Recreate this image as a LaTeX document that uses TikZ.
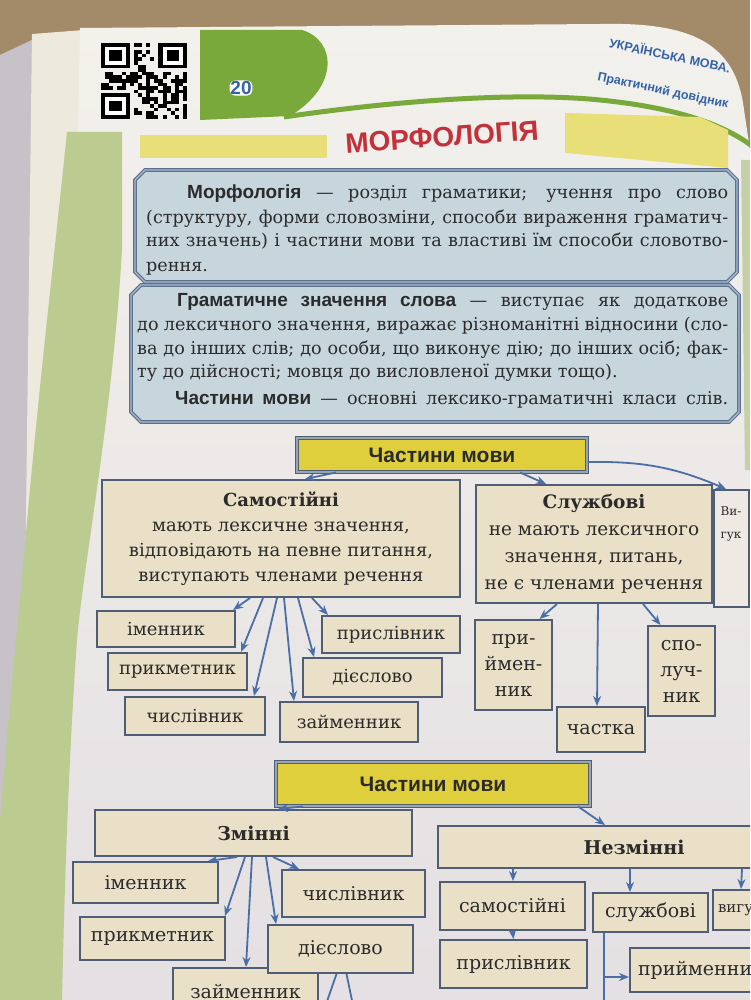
\documentclass[tikz,border=0pt]{standalone}
\usepackage{fontspec}
\setmainfont{DejaVu Serif}
\newfontfamily\hsans{Liberation Sans}
\usetikzlibrary{arrows.meta}
\definecolor{carpet}{HTML}{A38B6A}
\definecolor{lav}{HTML}{C7C2C8}
\definecolor{stack}{HTML}{EDE9DC}
\definecolor{pagetop}{HTML}{F3F1EC}
\definecolor{pagebot}{HTML}{E4E0E3}
\definecolor{rgreen}{HTML}{C5D0A8}
\definecolor{gstrip}{HTML}{BCCB90}
\definecolor{hgreen}{HTML}{79A93B}
\definecolor{barcol}{HTML}{E8DF78}
\definecolor{tred}{HTML}{C3313A}
\definecolor{hblue}{HTML}{3563A8}
\definecolor{infofill}{HTML}{C7D5DD}
\definecolor{infobord}{HTML}{5E7190}
\definecolor{infodbl}{HTML}{A9BACB}
\definecolor{yellowbox}{HTML}{DFCF3C}
\definecolor{dblc}{HTML}{9AA5B2}
\definecolor{beige}{HTML}{E9E0C7}
\definecolor{vygfill}{HTML}{EEEAE3}
\definecolor{bord}{HTML}{4F5D75}
\definecolor{arrowc}{HTML}{4A6EA6}
\definecolor{ink}{HTML}{2B2B2B}
\tikzset{
  leaf/.style={draw=bord, line width=2pt, fill=beige, text=ink, inner sep=0pt,
    font=\fontsize{18}{25}\selectfont, align=center},
  leafb/.style={leaf, font=\fontsize{19}{26}\selectfont},
  yelbox/.style={draw=bord, line width=1pt, double=dblc, double distance=1.8pt,
    fill=yellowbox, text=ink, inner sep=0pt, font=\hsans\bfseries\fontsize{21}{21}\selectfont},
  arr/.style={draw=arrowc, line width=1.8pt, -{Stealth[length=10pt,width=8pt]}},
  plainln/.style={draw=arrowc, line width=1.8pt},
  infobox/.style={fill=infofill, draw=infobord, line width=1.1pt, double=infodbl, double distance=1.4pt},
  bodyline/.style={anchor=base west, inner sep=0pt, text=ink, font=\fontsize{17.6}{20}\selectfont},
  hdrtext/.style={font=\hsans\bfseries\fontsize{12.5}{12.5}\selectfont, text=hblue, inner sep=0pt},
}
\newcommand\termb[1]{{\hsans\bfseries\fontsize{19}{20}\selectfont #1}}
\begin{document}
\begin{tikzpicture}[x=1pt,y=-1pt]
\useasboundingbox (0,0) rectangle (750,1000);
\clip (0,0) rectangle (750,1000);
% ---------- background ----------
\fill[carpet] (0,0) rectangle (750,1000);
\fill[lav] (0,55) -- (32,40) -- (32,1000) -- (0,1000) -- cycle;
\fill[stack] (32,34) -- (84,30) -- (84,1000) -- (20,1000) -- cycle;
\shade[top color=pagetop, bottom color=pagebot] (80,28) -- (600,24) .. controls (690,22) and (736,42) .. (744,110) -- (750,150) -- (750,1000) -- (60,1000) -- cycle;
\fill[rgreen] (741,160) -- (750,160) -- (750,470) -- (745,470) -- cycle;
\fill[gstrip] (67,132) -- (122,132) -- (122,250) .. controls (112,420) and (84,560) .. (77,640) .. controls (70,740) and (65,860) .. (62,1000) -- (0,1000) -- (0,820) .. controls (8,720) and (16,640) .. (22,580) .. controls (35,420) and (55,250) .. (67,132) -- cycle;
% ---------- QR code ----------
\foreach \fx/\fy in {0/0,14/0,0/14}{
  \fill[black] ({101+\fx*4.1},{43+\fy*3.6}) rectangle +(28.7,25.2);
  \fill[white] ({101+(\fx+1)*4.1},{43+(\fy+1)*3.6}) rectangle +(20.5,18);
  \fill[black] ({101+(\fx+2)*4.1},{43+(\fy+2)*3.6}) rectangle +(12.3,10.8);
}
\pgfmathsetseed{42}
\foreach \i in {0,...,20}{\foreach \j in {0,...,20}{%
  \pgfmathtruncatemacro\inf{((\i<8)&&(\j<8))||((\i>12)&&(\j<8))||((\i<8)&&(\j>12))}%
  \pgfmathsetmacro\rr{rnd}%
  \ifnum\inf=0 \ifdim\rr pt<0.5pt \fill[black] ({101+\i*4.1},{43+\j*3.6}) rectangle +(4.1,3.6);\fi\fi
}}
% ---------- header ----------
\fill[hgreen] (200,30) -- (302,30) .. controls (336,40) and (340,86) .. (290,116) -- (200,120) -- cycle;
\draw[hgreen, line width=5pt] (284,117) .. controls (400,100) and (520,92) .. (600,100) .. controls (670,107) and (720,122) .. (752,146);
\node[font=\hsans\bfseries\fontsize{19}{19}\selectfont, text=hblue, fill=white, rounded corners=5pt, inner sep=0.8pt] (pnum) at (241,88) {20};
\node[hdrtext, rotate=-12] (ukr) at (670,55) {УКРАЇНСЬКА МОВА.};
\node[hdrtext, rotate=-12] (prakt) at (663,91) {Практичний довідник};
\fill[barcol] (140,135) rectangle (327,158);
\fill[barcol] (565,113) -- (700,117) -- (728,130) -- (728,168) -- (565,153) -- cycle;
\node[font=\hsans\bfseries\fontsize{28}{28}\selectfont, text=tred, rotate=4] (title) at (442,137) {МОРФОЛОГІЯ};
% ---------- definition boxes ----------
\draw[infobox] (135,180) -- (145,170) -- (727,170) -- (737,180) -- (737,272) -- (727,282) -- (145,282) -- (135,272) -- cycle;
\node[bodyline] (d1a) at (187,199) {\makebox[541pt][s]{\termb{Морфологія} — розділ граматики; учення про слово}};
\node[bodyline] (d1b) at (146,223) {\makebox[582pt][s]{(структуру, форми словозміни, способи вираження граматич-}};
\node[bodyline] (d1c) at (146,247) {\makebox[582pt][s]{них значень) і частини мови та властиві їм способи словотво-}};
\node[bodyline] (d1d) at (146,271) {рення.};
\draw[infobox] (131,295) -- (141,285) -- (729,285) -- (739,295) -- (739,412) -- (729,422) -- (141,422) -- (131,412) -- cycle;
\node[bodyline] (d2a) at (177,306) {\makebox[551pt][s]{\termb{Граматичне значення слова} — виступає як додаткове}};
\node[bodyline] (d2b) at (137,330) {\makebox[591pt][s]{до лексичного значення, виражає різноманітні відносини (сло-}};
\node[bodyline] (d2c) at (137,354) {\makebox[591pt][s]{ва до інших слів; до особи, що виконує дію; до інших осіб; фак-}};
\node[bodyline] (d2d) at (137,377) {ту до дійсності; мовця до висловленої думки тощо).};
\node[bodyline] (d2e) at (175,404) {\makebox[553pt][s]{\termb{Частини мови} — основні лексико-граматичні класи слів.}};
% ---------- diagram 1 ----------
\node[yelbox, minimum width=290pt, minimum height=34pt] (top1) at (442,455) {Частини мови};
\node[leaf, minimum width=358pt, minimum height=117pt] (sam) at (281,538.5)
  {{\bfseries Самостійні}\\мають лексичне значення,\\відповідають на певне питання,\\виступають членами речення};
\node[leafb, minimum width=236pt, minimum height=118pt, font=\fontsize{18.5}{27}\selectfont] (sluzh) at (594,544)
  {{\bfseries Службові}\\не мають лексичного\\значення, питань,\\не є членами речення};
\node[leaf, fill=vygfill, minimum width=35pt, minimum height=117pt] (vyg) at (731,548.5) {};
\node[text=ink, font=\fontsize{12}{23}\selectfont, align=center, inner sep=0pt] (vygt) at (731,524) {Ви-\\гук};
\node[leaf, minimum width=138pt, minimum height=36pt] (imen1) at (166,629) {іменник};
\node[leaf, minimum width=139pt, minimum height=37pt] (prykm1) at (177.5,671.5) {прикметник};
\node[leaf, minimum width=140pt, minimum height=38pt] (chysl1) at (195,716) {числівник};
\node[leaf, minimum width=138pt, minimum height=37pt] (pryslv1) at (391,634.5) {прислівник};
\node[leaf, minimum width=139pt, minimum height=39pt] (dies1) at (372.5,677.5) {дієслово};
\node[leaf, minimum width=138pt, minimum height=40pt] (zaim1) at (349,722) {займенник};
\node[leafb, minimum width=77pt, minimum height=90pt] (pryim1) at (513.5,665) {при-\\ймен-\\ник};
\node[leafb, minimum width=88pt, minimum height=45pt] (chastka) at (601,729.5) {частка};
\node[leafb, minimum width=67pt, minimum height=90pt] (spol) at (681.5,671) {спо-\\луч-\\ник};
\draw[arr] ([xshift=-106pt]top1.south) -- ([xshift=24pt]sam.north);
\draw[arr] ([xshift=78pt]top1.south) -- ([xshift=-48pt]sluzh.north);
\draw[arr] ([yshift=-7pt]top1.east) to[bend left=12] ([xshift=-5pt]vyg.north);
\draw[arr] ([xshift=-31pt]sam.south) -- ([xshift=-3pt]imen1.north east);
\draw[arr] ([xshift=-18pt]sam.south) -- ([xshift=-7pt]prykm1.north east);
\draw[arr] ([xshift=-4pt]sam.south) -- ([xshift=-12pt]chysl1.north east);
\draw[arr] ([xshift=3pt]sam.south) -- ([xshift=15pt]zaim1.north west);
\draw[arr] ([xshift=17pt]sam.south) -- ([xshift=12pt]dies1.north west);
\draw[arr] ([xshift=31pt]sam.south) -- ([xshift=7pt]pryslv1.north west);
\draw[arr] ([xshift=-37pt]sluzh.south) -- ([xshift=26pt]pryim1.north);
\draw[arr] ([xshift=4pt]sluzh.south) -- ([xshift=-4pt]chastka.north);
\draw[arr] ([xshift=49pt]sluzh.south) -- ([xshift=-21pt]spol.north);
% ---------- diagram 2 ----------
\node[yelbox, minimum width=314pt, minimum height=44pt] (top2) at (433,784) {Частини мови};
\node[leafb, minimum width=317pt, minimum height=46pt] (zmin) at (253.5,833) {\bfseries Змінні};
\node[leafb, minimum width=392pt, minimum height=42pt] (nezmin) at (634,847) {\bfseries Незмінні};
\node[leafb, minimum width=145pt, minimum height=41pt] (imen2) at (145.5,882.5) {іменник};
\node[leafb, minimum width=145pt, minimum height=43pt] (prykm2) at (152.5,938.5) {прикметник};
\node[leafb, minimum width=145pt, minimum height=47pt] (zaim2) at (245.5,991.5) {займенник};
\node[leafb, minimum width=143pt, minimum height=47pt] (chysl2) at (353.5,893.5) {числівник};
\node[leafb, minimum width=145pt, minimum height=48pt] (dies2) at (340.5,949) {дієслово};
\node[leafb, minimum width=145pt, minimum height=48pt] (samost2) at (512.5,906) {самостійні};
\node[leafb, minimum width=147pt, minimum height=48pt] (pryslv2) at (513.5,964) {прислівник};
\node[leafb, minimum width=115pt, minimum height=39pt] (sluzh2) at (650.5,912.5) {службові};
\node[leafb, minimum width=89pt, minimum height=40pt, font=\fontsize{15}{15}\selectfont, text width=79pt, align=left, inner xsep=5pt] (vyg2) at (757.5,910) {вигук};
\node[leafb, minimum width=170pt, minimum height=44pt, text width=160pt, align=left, inner xsep=8pt] (pryim2) at (718,970) {прийменник};
\coordinate (d2l) at (324,1010);
\coordinate (d2r) at (354,1010);
\coordinate (sl2end) at (604,1010);
\coordinate (sl2br) at (604,977);
\draw[arr] ([xshift=-130pt]top2.south) -- ([xshift=24.5pt]zmin.north);
\draw[arr] ([xshift=145pt]top2.south) -- ([xshift=-29pt]nezmin.north);
\draw[arr] ([xshift=-16.5pt]zmin.south) -- ([xshift=-11pt]imen2.north east);
\draw[arr] ([xshift=-8.5pt]zmin.south) -- ([xshift=-1pt]prykm2.north east);
\draw[arr] ([xshift=-1.5pt]zmin.south) -- ([xshift=0.5pt]zaim2.north);
\draw[arr] ([xshift=12.5pt]zmin.south) -- ([xshift=9pt]dies2.north west);
\draw[arr] ([xshift=19.5pt]zmin.south) -- ([xshift=18pt]chysl2.north west);
\draw[plainln] ([xshift=-4pt]dies2.south) -- (d2l);
\draw[plainln] ([xshift=6pt]dies2.south) -- (d2r);
\draw[arr] ([xshift=-121pt]nezmin.south) -- ([xshift=0.5pt]samost2.north);
\draw[arr] ([xshift=-4pt]nezmin.south) -- ([xshift=-20.5pt]sluzh2.north);
\draw[arr] ([xshift=108pt]nezmin.south) -- ([xshift=29pt]vyg2.north west);
\draw[arr] (samost2.south) -- (pryslv2.north);
\draw[plainln] ([xshift=-46.5pt]sluzh2.south) -- (sl2end);
\draw[arr] (sl2br) -- (pryim2.west |- sl2br);
\end{tikzpicture}
\end{document}
